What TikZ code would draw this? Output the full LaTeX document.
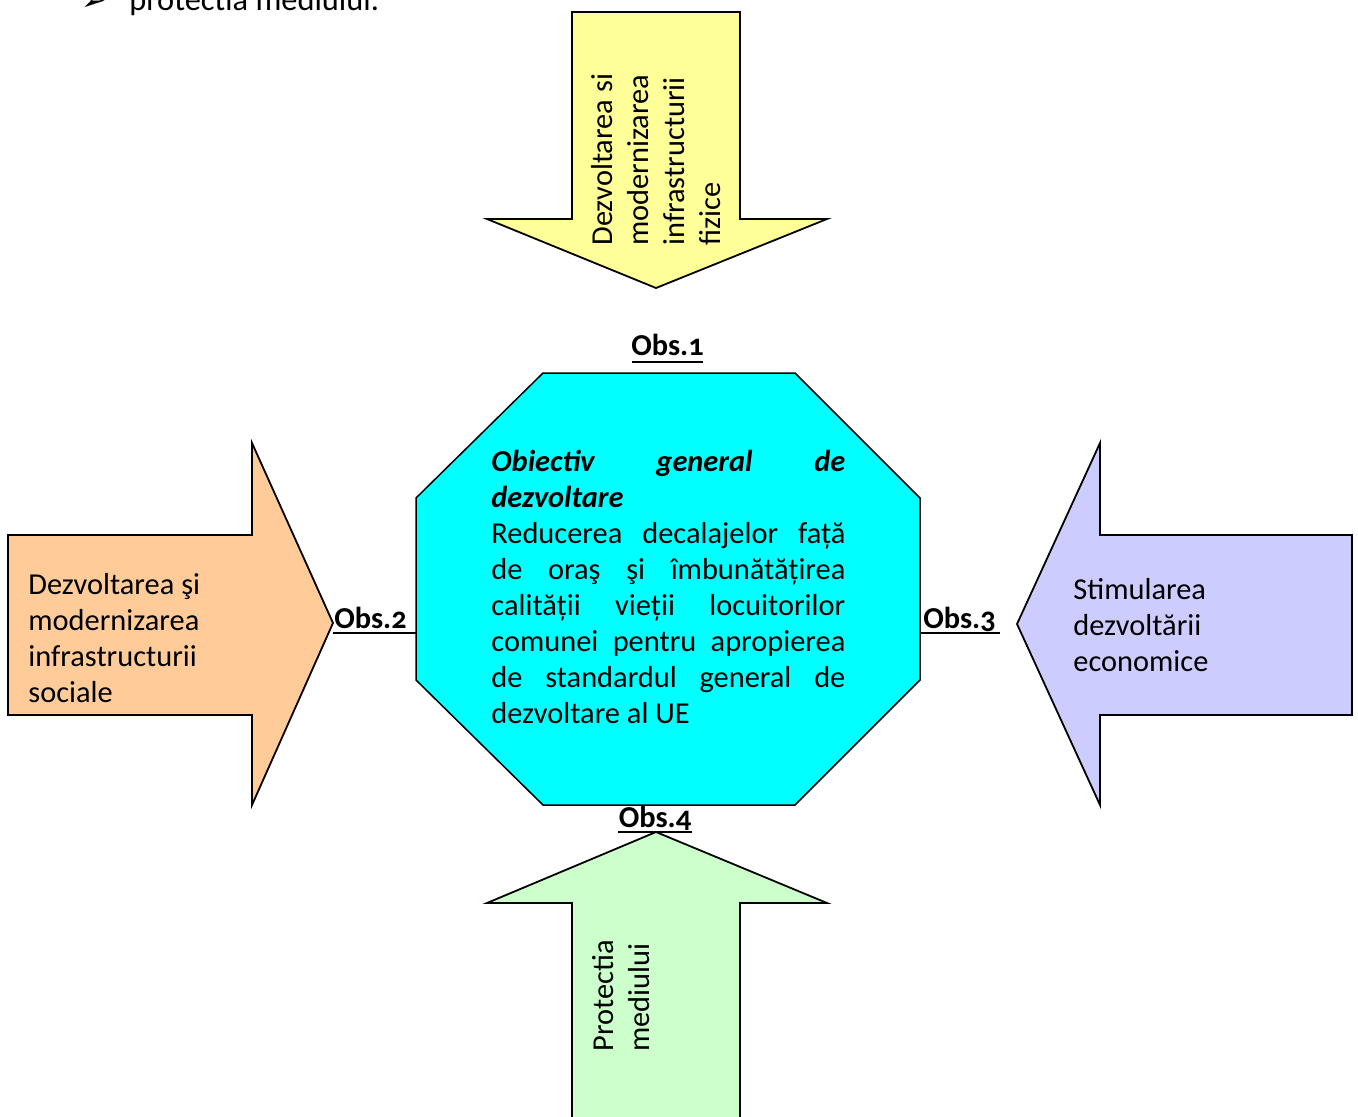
\documentclass[tikz,border=0pt]{standalone}
\usepackage{fontspec}
\setmainfont{Carlito}
\newfontfamily\symfont{DejaVu Sans}
\definecolor{yellowfill}{HTML}{FFFF99}
\definecolor{orangefill}{HTML}{FFCC99}
\definecolor{lilacfill}{HTML}{CCCCFF}
\definecolor{greenfill}{HTML}{CCFFCC}
\definecolor{cyanfill}{HTML}{00FFFF}
\newcommand{\octline}[1]{\makebox[177pt][s]{#1}}

\begin{document}
\begin{tikzpicture}[
            x=0.5pt, y=-0.5pt,
            shapeline/.style={draw, line width=0.9pt, line join=miter},
            txt/.style={inner sep=0, anchor=base west, align=left,
                            font=\fontsize{15.2}{18}\selectfont},
            obs/.style={inner sep=0, anchor=base,
                            font=\fontsize{15.2}{18}\selectfont\bfseries\addfontfeatures{Numbers=OldStyle}},
            uline/.style={draw, line width=1.1pt}
        ]
            \useasboundingbox (0,0) rectangle (1358,1117);

            % rest of the list above
            \node[inner sep=0, anchor=base west, font=\fontsize{15}{18}\symfont] (bullet) at (81,11) {➢};
            \node[txt, font=\fontsize{16.2}{18}\selectfont] (prev) at (129,11) {protectia mediului.};

            % arrows
            \draw[shapeline, fill=yellowfill] (572,12) -- (740,12) -- (740,219) -- (827,219)
                -- (656,288) -- (487,219) -- (572,219) -- cycle;
            \draw[shapeline, fill=greenfill] (572,1130) -- (572,903) -- (487,903) -- (656,832)
                -- (827,903) -- (740,903) -- (740,1130);
            \draw[shapeline, fill=orangefill] (8,535) -- (252,535) -- (252,443) -- (333,623)
                -- (252,805) -- (252,715) -- (8,715) -- cycle;
            \draw[shapeline, fill=lilacfill] (1352,535) -- (1100,535) -- (1100,443) -- (1017,624)
                -- (1100,805) -- (1100,715) -- (1352,715) -- cycle;

            % octagon
            \draw[shapeline, line width=0.75pt, fill=cyanfill] (543,373) -- (795,373) -- (920,498)
                -- (920,680) -- (795,805) -- (543,805) -- (416,680) -- (416,498) -- cycle;
            \coordinate (octW) at (416,633);
            \coordinate (octE) at (920,633);

            % texts (base = last line)
            \node[txt, rotate=90] (fizic) at (720,246)
                {Dezvoltarea si\\modernizarea\\infrastructurii\\fizice};
            \node[txt, rotate=90] (mediu) at (649,1052) {Protectia\\mediului};
            \node[txt] (social) at (28,702)
                {Dezvoltarea şi\\modernizarea\\infrastructurii\\sociale};
            \node[txt] (econ) at (1073,671) {Stimularea\\dezvoltării\\economice};

            \node[txt] (obiectiv) at (491,723) {%
                \octline{\bfseries\itshape Obiectiv general de}\\
                {\bfseries\itshape dezvoltare}\\
                \octline{Reducerea decalajelor față}\\
                \octline{de oraş şi îmbunătățirea}\\
                \octline{calității vieții locuitorilor}\\
                \octline{comunei pentru apropierea}\\
                \octline{de standardul general de}\\
                dezvoltare al UE};

            % labels
            \node[obs] (obs1) at (667.5,356) {Obs.1};
            \node[obs] (obs2) at (370.5,628) {Obs.2};
            \node[obs] (obs3) at (959.5,628) {Obs.3};
            \node[obs] (obs4) at (655,827) {Obs.4};

            \coordinate (u1a) at (632,362);
            \coordinate (u1b) at (703,362);
            \coordinate (u2a) at (333,633);
            \coordinate (u3b) at (1000,633);
            \coordinate (u4a) at (618,832);
            \coordinate (u4b) at (692,832);
            \draw[uline] (u1a) -- (u1b);
            \draw[uline] (u2a) -- (octW);
            \draw[uline] (octE) -- (u3b);
            \draw[uline] (u4a) -- (u4b);

        \end{tikzpicture}
\end{document}
